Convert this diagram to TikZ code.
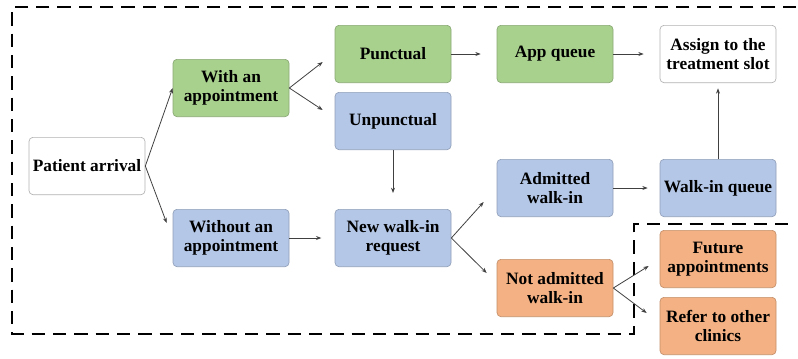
\documentclass[tikz,border=0pt]{standalone}
\usepackage{fontspec}
\setmainfont{Liberation Serif}
\newfontfamily\boxfont{Liberation Serif}
\usetikzlibrary{arrows.meta}

\tikzset{
  box/.style={draw=#1!80!black, fill=#1, rounded corners=3pt, line width=0.5pt,
    minimum width=87pt, minimum height=43pt, align=center, inner sep=1pt,
    font=\boxfont\bfseries\fontsize{13}{14}\selectfont},
  link/.style={draw=black!75, line width=0.6pt, -{Stealth[length=4pt,width=3pt]}}
}
\definecolor{appgreen}{RGB}{169,209,142}
\definecolor{walkblue}{RGB}{180,199,231}
\definecolor{outorange}{RGB}{244,177,131}
\definecolor{plainbox}{RGB}{255,255,255}

\begin{document}
\begin{tikzpicture}[x=0.75pt, y=-0.75pt]
  \useasboundingbox (0,0) rectangle (798,358);
  % outer boundary
  \draw [line width=1.8pt, dash pattern=on 10pt off 6pt]
    (796,7) -- (12,7) -- (12,334) -- (634,334) -- (634,224) -- (796,224);
  % nodes
  \node [box=plainbox, draw=black!30] (arrival) at (87,166) {Patient arrival};
  \node [box=appgreen] (withapp) at (231,88) {With an\\appointment};
  \node [box=walkblue] (without) at (231,238) {Without an\\appointment};
  \node [box=appgreen] (punct) at (393,54) {Punctual};
  \node [box=walkblue] (unpunct) at (393,121) {Unpunctual};
  \node [box=walkblue] (newreq) at (393,238) {New walk-in\\request};
  \node [box=appgreen] (appq) at (555,54) {App queue};
  \node [box=walkblue] (admitted) at (555,188) {Admitted\\walk-in};
  \node [box=outorange] (notadm) at (555,288) {Not admitted\\walk-in};
  \node [box=plainbox, draw=black!30] (assign) at (718,54) {Assign to the\\treatment slot};
  \node [box=walkblue] (walkq) at (718,188) {Walk-in queue};
  \node [box=outorange] (future) at (718,259) {Future\\appointments};
  \node [box=outorange] (refer) at (718,326) {Refer to other\\clinics};
  % connectors
  \draw [link] (arrival.east) -- (withapp.west);
  \draw [link] (arrival.east) -- ([shift={(-6,-15)}]without.west);
  \draw [link] (withapp.east) -- ([shift={(-12,8)}]punct.west);
  \draw [link] (withapp.east) -- ([shift={(-12,-11)}]unpunct.west);
  \draw [link, shorten >=12pt] (punct) -- (appq);
  \draw [link, shorten >=12pt] (appq) -- (assign);
  \draw [link, shorten >=12pt] (unpunct) -- (newreq);
  \draw [link, shorten >=10pt] (without) -- (newreq);
  \draw [link] (newreq.east) -- ([shift={(-13,14)}]admitted.west);
  \draw [link] (newreq.east) -- ([shift={(-10,-15)}]notadm.west);
  \draw [link, shorten >=9pt] (admitted) -- (walkq);
  \draw [link, shorten >=4pt] (walkq) -- (assign);
  \draw [link] (notadm.east) -- ([shift={(-11,7)}]future.west);
  \draw [link] (notadm.east) -- ([shift={(-13,-13)}]refer.west);
\end{tikzpicture}
\end{document}
